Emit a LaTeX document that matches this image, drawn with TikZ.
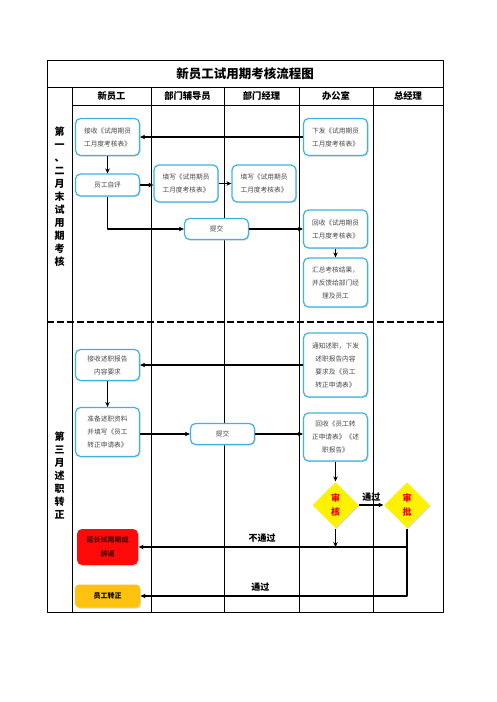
\documentclass[tikz,border=0pt]{standalone}
\usepackage{fontspec}
\setmainfont{Noto Sans CJK SC}
\usetikzlibrary{positioning, arrows.meta, shapes.geometric, shadows}
\definecolor{figink}{HTML}{1A1A1A}
\definecolor{boxedge}{HTML}{3DB3E3}
\definecolor{boxtext}{HTML}{4A4A4A}
\definecolor{chkfill}{HTML}{FFF200}
\definecolor{chktext}{HTML}{F00000}
\definecolor{failfill}{HTML}{FF0A0A}
\definecolor{failtext}{HTML}{4A0000}
\definecolor{passfill}{HTML}{FFC20E}

\begin{document}
\begin{tikzpicture}[
  x=1pt, y=-1pt,
  line width=1.2pt, line cap=butt, line join=round,
  >={Stealth[length=5pt, width=4.5pt]},
  frame/.style = {draw=black, line width=0.9pt},
  divide/.style = {draw=black, line width=1.6pt, dash pattern=on 7pt off 3pt},
  flow/.style = {draw=boxedge, line width=1.2pt, fill=white, rounded corners=5pt,
                 minimum width=64pt, inner sep=1pt, align=center, text=boxtext,
                 font=\fontsize{6.7}{13}\selectfont,
                 drop shadow={shadow xshift=1pt, shadow yshift=-1pt, fill=black!30, opacity=0.5}},
  check/.style = {diamond, fill=chkfill, minimum width=46pt, minimum height=46pt,
                  inner sep=0pt, align=center, text=chktext,
                  font=\fontsize{9}{14}\selectfont\bfseries,
                  drop shadow={shadow xshift=1pt, shadow yshift=-1pt, fill=black!30, opacity=0.5}},
  failbox/.style = {fill=failfill, rounded corners=5pt, minimum width=61pt, minimum height=36pt,
                    inner sep=1pt, align=center, text=failtext,
                    font=\fontsize{7}{14}\selectfont\bfseries,
                    drop shadow={shadow xshift=1pt, shadow yshift=-1pt, fill=black!30, opacity=0.5}},
  passbox/.style = {fill=passfill, rounded corners=4pt, minimum width=65pt, minimum height=23pt,
                    inner sep=1pt, align=center, text=black,
                    font=\fontsize{7}{14}\selectfont\bfseries,
                    drop shadow={shadow xshift=1pt, shadow yshift=-1pt, fill=black!30, opacity=0.5}},
  head/.style = {font=\fontsize{9.3}{11}\selectfont\bfseries, inner sep=1pt},
  phase/.style = {font=\fontsize{10}{13}\selectfont\bfseries, align=center, inner sep=0pt},
  note/.style = {font=\fontsize{9}{11}\selectfont\bfseries, inner sep=1pt}
]
\useasboundingbox (0,0) rectangle (496,702);

% 表格框线
\draw[frame] (47,60) rectangle (443,612);
\draw[frame] (47,87) -- (443,87);
\draw[frame] (72,105) -- (443,105);
\foreach \x in {72,151,224,299,373}
  \draw[frame] (\x,87) -- (\x,612);
\draw[divide] (47,322) -- (443,322);

% 标题与泳道
\node[font=\fontsize{12.5}{14}\selectfont\bfseries] (title) at (245,74) {新员工试用期考核流程图};
\node[head] (hnew) at (111.5,96) {新员工};
\node[head] (htutor) at (187.5,96) {部门辅导员};
\node[head] (hmgr) at (261.5,96) {部门经理};
\node[head] (hoffice) at (336,96) {办公室};
\node[head] (hgm) at (408,96) {总经理};

\node[phase] (phaseA) at (59.5,197) {第\\一\\、\\二\\月\\末\\试\\用\\期\\考\\核};
\node[phase] (phaseB) at (59.5,475.5) {第\\三\\月\\述\\职\\转\\正};

% 第一、二月末考核
\node[flow, minimum height=37pt] (issueform) at (335.5,137) {下发《试用期员\\工月度考核表》};
\node[flow, minimum height=37pt] (getform) at (107.5,137) {接收《试用期员\\工月度考核表》};
\node[flow, minimum height=22pt] (selfeval) at (107.5,185) {员工自评};
\node[flow, minimum height=37pt] (tutorfill) at (186,183.5) {填写《试用期员\\工月度考核表》};
\node[flow, minimum height=37pt] (mgrfill) at (264,183.5) {填写《试用期员\\工月度考核表》};
\node[flow, minimum height=21pt] (submitA) at (216.5,229) {提交};
\node[flow, minimum height=38pt] (collectA) at (335.5,229) {回收《试用期员\\工月度考核表》};
\node[flow, minimum height=49pt] (summary) at (335.5,282.5) {汇总考核结果，\\并反馈给部门经\\理及员工};

\draw[->] (issueform.west) -- (getform.east);
\draw[->] (getform.south) -- (selfeval.north);
\draw[->] (selfeval.east) -- (selfeval.east -| tutorfill.west);
\draw[->] (tutorfill.east) -- (tutorfill.east -| mgrfill.west);
\draw[->] (selfeval.south) |- (submitA.west);
\draw[->] (submitA.east) -- (collectA.west);
\draw[->] (collectA.south) -- (summary.north);

% 第三月述职转正
\node[flow, minimum height=64pt] (notify) at (335.5,365) {通知述职，下发\\述职报告内容\\要求及《员工\\转正申请表》};
\node[flow, minimum height=31pt] (getreq) at (107.5,365) {接收述职报告\\内容要求};
\node[flow, minimum height=49pt] (prepare) at (107.5,432) {准备述职资料\\并填写《员工\\转正申请表》};
\node[flow, minimum height=21pt] (submitB) at (222.5,434) {提交};
\node[flow, minimum height=48pt] (collectB) at (335.5,437) {回收《员工转\\正申请表》《述\\职报告》};
\node[check] (review) at (335.5,505) {审\\核};
\node[check] (approve) at (407,505) {审\\批};
\node[failbox] (extend) at (107.5,547) {延长试用期或\\辞退};
\node[passbox] (regular) at (107.5,596) {员工转正};

\draw[->] (notify.west) -- (getreq.east);
\draw[->] (getreq.south) -- (prepare.north);
\draw[->] (prepare.east |- submitB.west) -- (submitB.west);
\draw[->] (submitB.east) -- (submitB.east -| collectB.west);
\draw[->] (collectB.south) -- (review.north);
\draw[->] (review.east) -- node[note, above=2pt] (passA) {通过} (approve.west);
\draw[->] (review.south) -- (review.south |- extend.east);
\draw[->] (approve.south) |- node[note, pos=0.77, above=3pt] (failB) {不通过} (extend.east);
\draw[->] (approve.south) |- node[note, pos=0.775, above=3pt] (passB) {通过} (regular.east);

\end{tikzpicture}
\end{document}
